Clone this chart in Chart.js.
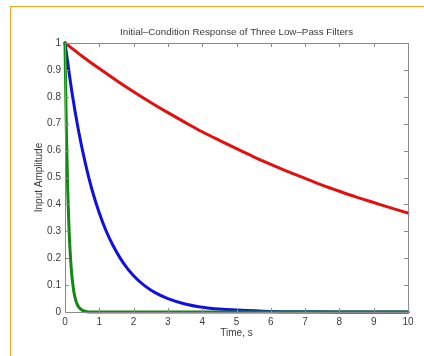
<!DOCTYPE html>
<html>
<head>
<meta charset="utf-8">
<script src="https://cdn.jsdelivr.net/npm/chart.js@4"></script>
<style>
  html, body { margin: 0; padding: 0; background: #ffffff; }
  #wrap { position: relative; width: 424px; height: 356px; overflow: hidden; }
  #frame { position: absolute; left: 10px; top: 6px; width: 430px; height: 360px;
           border-top: 1.5px solid #f7a520; border-left: 1.5px solid #f7a520; }
  #c { position: absolute; left: 0; top: 0; }
</style>
</head>
<body>
<div id="wrap">
  <div id="frame"></div>
  <canvas id="c" width="424" height="356"></canvas>
</div>
<script>
// Values
const redT   = [0, 0.5, 1, 1.5, 2, 2.5, 3, 3.5, 4, 4.5, 5, 5.5, 6, 6.5, 7, 7.5, 8, 8.5, 9, 9.5, 10];
const redY   = [1, 0.951, 0.905, 0.861, 0.819, 0.779, 0.741, 0.705, 0.670, 0.638, 0.607, 0.577, 0.549, 0.522, 0.497, 0.472, 0.449, 0.427, 0.407, 0.387, 0.368];
const blueT  = [0, 0.2, 0.4, 0.6, 0.8, 1, 1.2, 1.4, 1.6, 1.8, 2, 2.3, 2.6, 3, 3.5, 4, 4.5, 5, 6, 7, 8, 10];
const blueY  = [1, 0.819, 0.670, 0.549, 0.449, 0.368, 0.301, 0.247, 0.202, 0.165, 0.135, 0.100, 0.074, 0.050, 0.030, 0.018, 0.011, 0.007, 0.002, 0.001, 0, 0];
const greenT = [0, 0.04, 0.08, 0.12, 0.16, 0.2, 0.25, 0.3, 0.35, 0.4, 0.5, 0.6, 0.8, 10];
const greenY = [1, 0.670, 0.449, 0.301, 0.202, 0.135, 0.082, 0.050, 0.030, 0.018, 0.007, 0.002, 0, 0];
const xTicks = [0, 1, 2, 3, 4, 5, 6, 7, 8, 9, 10];
const yTicks = [0, 0.1, 0.2, 0.3, 0.4, 0.5, 0.6, 0.7, 0.8, 0.9, 1];
const titleText = 'Initial\u2013Condition Response of Three Low\u2013Pass Filters';
const xTitle = 'Time, s';
const yTitle = 'Input Amplitude';

const toPts = (t, y) => t.map((v, i) => ({ x: v, y: y[i] }));
const FONT = 'Liberation Sans, Arial, sans-serif';
const TXT = '#3a3a3a';
const AX = '#8a8a8a';

const boxPlugin = {
  id: 'box',
  afterDatasetsDraw(chart) {
    const { ctx, chartArea: a, scales } = chart;
    ctx.save();
    ctx.strokeStyle = AX;
    ctx.lineWidth = 1;
    ctx.strokeRect(Math.round(a.left) + 0.5, Math.round(a.top) + 0.5,
                   Math.round(a.right - a.left), Math.round(a.bottom - a.top));
    const L = 4;
    ctx.beginPath();
    xTicks.forEach(v => {
      const px = Math.round(scales.x.getPixelForValue(v)) + 0.5;
      ctx.moveTo(px, a.bottom); ctx.lineTo(px, a.bottom - L);
      ctx.moveTo(px, a.top); ctx.lineTo(px, a.top + L);
    });
    yTicks.forEach(v => {
      const py = Math.round(scales.y.getPixelForValue(v)) + 0.5;
      ctx.moveTo(a.left, py); ctx.lineTo(a.left + L, py);
      ctx.moveTo(a.right, py); ctx.lineTo(a.right - L, py);
    });
    ctx.stroke();
    // title centred over the plot box
    ctx.fillStyle = TXT;
    ctx.font = '9.8px ' + FONT;
    ctx.textAlign = 'center';
    ctx.textBaseline = 'middle';
    ctx.fillText(titleText, (a.left + a.right) / 2, 32);
    ctx.restore();
  }
};

new Chart(document.getElementById('c'), {
  type: 'line',
  data: {
    datasets: [
      { data: toPts(redT, redY), borderColor: '#e31010', borderWidth: 3, order: 3 },
      { data: toPts(blueT, blueY), borderColor: '#1010e0', borderWidth: 3, order: 2 },
      { data: toPts(greenT, greenY), borderColor: '#108a10', borderWidth: 3, order: 1 }
    ]
  },
  options: {
    responsive: false,
    animation: false,
    devicePixelRatio: 1,
    layout: { padding: { left: 0, right: 16, top: 43, bottom: 0 } },
    elements: {
      point: { radius: 0 },
      line: { cubicInterpolationMode: 'monotone', fill: false, borderCapStyle: 'round', borderJoinStyle: 'round' }
    },
    datasets: { line: { clip: false } },
    plugins: {
      legend: { display: false },
      tooltip: { enabled: false },
      title: { display: false }
    },
    scales: {
      x: {
        type: 'linear', min: 0, max: 10,
        afterBuildTicks: s => { s.ticks = xTicks.map(v => ({ value: v })); },
        afterFit: s => { s.height = 44; },
        grid: { display: false, drawTicks: false },
        border: { display: false },
        ticks: { color: TXT, padding: 4, font: { family: FONT, size: 10 }, maxRotation: 0 },
        title: { display: true, text: xTitle, color: TXT, font: { family: FONT, size: 10 }, padding: { top: 0, bottom: 17 } }
      },
      y: {
        type: 'linear', min: 0, max: 1,
        afterBuildTicks: s => { s.ticks = yTicks.map(v => ({ value: v })); },
        afterFit: s => { s.width = 65; },
        grid: { display: false, drawTicks: false },
        border: { display: false },
        ticks: { color: TXT, padding: 4, font: { family: FONT, size: 10 },
                 callback: v => String(Math.round(v * 10) / 10) },
        title: { display: true, text: yTitle, color: TXT, font: { family: FONT, size: 10 }, padding: { top: 33, bottom: 0 } }
      }
    }
  },
  plugins: [boxPlugin]
});
</script>
</body>
</html>
